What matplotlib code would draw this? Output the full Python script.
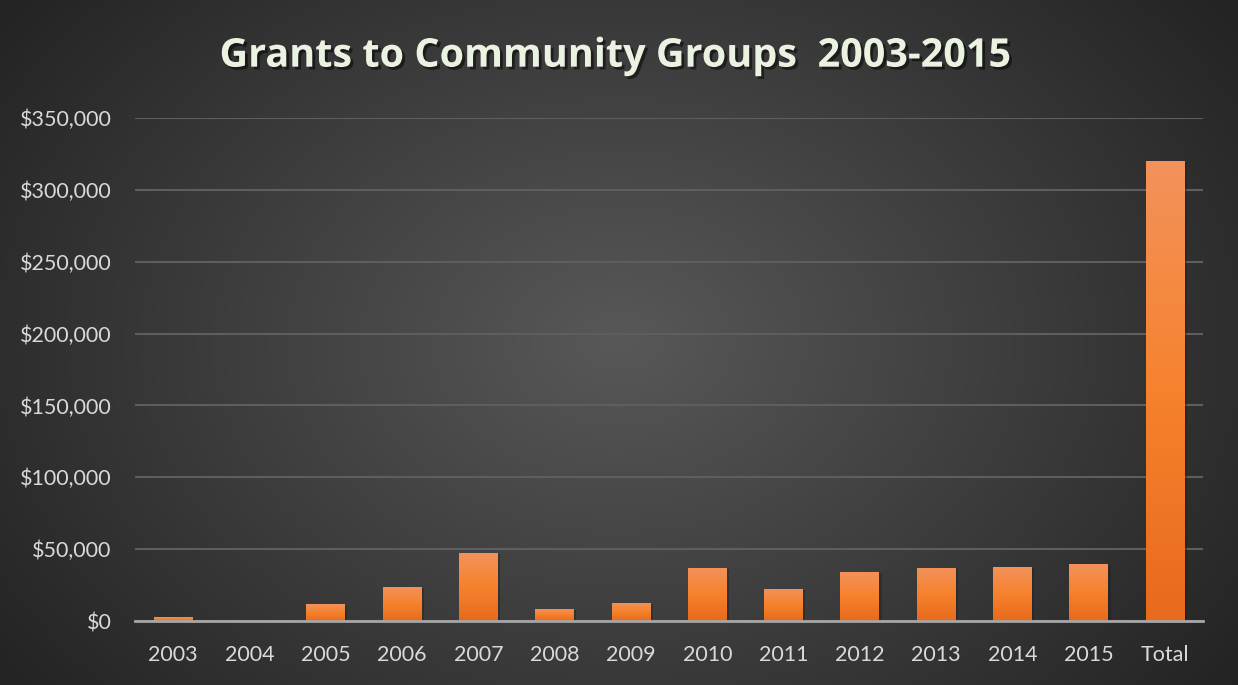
import numpy as np
import matplotlib.pyplot as plt
import matplotlib.patheffects as pe
from matplotlib.colors import LinearSegmentedColormap
from matplotlib.ticker import FuncFormatter

years = ['2003', '2004', '2005', '2006', '2007', '2008', '2009',
         '2010', '2011', '2012', '2013', '2014', '2015', 'Total']
grants = [2500, 0, 11500, 24000, 47500, 8600, 12800,
          37200, 22500, 34400, 37200, 37900, 40000, 320000]
yticks = [0, 50000, 100000, 150000, 200000, 250000, 300000, 350000]

plt.rcParams['font.family'] = ['Lato', 'DejaVu Sans']

fig = plt.figure(figsize=(12.38, 6.85), dpi=100)

# radial background
bg = fig.add_axes([0, 0, 1, 1])
bg.set_axis_off()
xx, yy = np.meshgrid(np.linspace(-1, 1, 600), np.linspace(-1, 1, 400))
r = np.sqrt((xx * 1.0) ** 2 + ((yy + 0.0) * 0.75) ** 2)
bg_cmap = LinearSegmentedColormap.from_list('bg', ['#585858', '#232323'])
bg.imshow(r, cmap=bg_cmap, vmin=0, vmax=1.25, aspect='auto', extent=[0, 1, 0, 1])
bg.set_xlim(0, 1)
bg.set_ylim(0, 1)

ax = fig.add_axes([0.109, 0.0934, 0.863, 0.7343])
ax.patch.set_alpha(0)
x = np.arange(len(years))
bars = ax.bar(x, grants, width=0.51, color='none', zorder=3)

bar_cmap = LinearSegmentedColormap.from_list('bar', ['#E86A1C', '#F6822D', '#F3925C'])
grad = np.linspace(0, 1, 256).reshape(-1, 1)
for b in bars:
    h = b.get_height()
    if h <= 0:
        continue
    x0 = b.get_x()
    w = b.get_width()
    # soft shadow
    ax.bar(x0 + w / 2 + 0.03, h, width=w, bottom=-1200, color='#1a1a1a', alpha=0.35, zorder=2)
    im = ax.imshow(grad, cmap=bar_cmap, aspect='auto', origin='lower',
                   extent=[x0, x0 + w, 0, h], zorder=3)
    im.set_clip_path(b)

ax.set_xlim(-0.5, len(years) - 0.5)
ax.set_ylim(0, 350000)
ax.set_xticks(x)
ax.set_xticklabels(years)
ax.set_yticks(yticks)
ax.yaxis.set_major_formatter(FuncFormatter(lambda v, p: '${:,.0f}'.format(v)))
ax.tick_params(axis='both', length=0, colors='#D9D9D9', labelsize=15.5)
ax.tick_params(axis='x', pad=17)
ax.tick_params(axis='y', pad=17)
ax.grid(axis='y', color='#5E5E5E', linewidth=1.5, zorder=1)
for s in ['top', 'right', 'left']:
    ax.spines[s].set_visible(False)
ax.spines['bottom'].set_color('#A6A6A6')
ax.spines['bottom'].set_linewidth(2)
ax.spines['bottom'].set_zorder(4)

fig.text(0.497, 0.918, 'Grants to Community Groups  2003-2015', ha='center', va='center',
         fontsize=28.5, fontweight='bold', color='#EAF3E2', family=['Open Sans', 'DejaVu Sans'],
         path_effects=[pe.withSimplePatchShadow(offset=(2, -2), shadow_rgbFace='black', alpha=0.5)])

fig.savefig('out.png', dpi=100)
